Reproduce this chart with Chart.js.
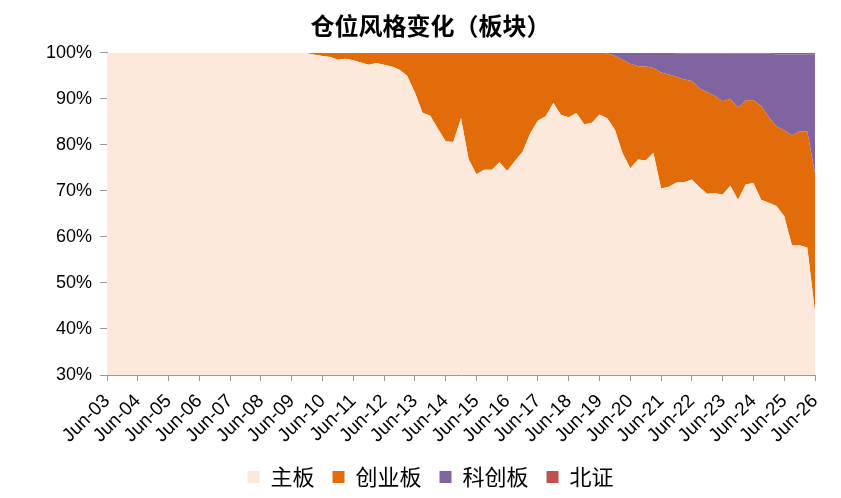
<!DOCTYPE html>
<html>
<head>
<meta charset="utf-8">
<script src="https://cdn.jsdelivr.net/npm/chart.js@4"></script>
<style>
  html, body { margin: 0; padding: 0; background: #fff; }
  #wrap { width: 841px; height: 498px; position: relative; }
</style>
</head>
<body>
<div id="wrap"><canvas id="chart"></canvas></div>
<script>
// Quarter labels, Jun-03 .. Jun-26
const months = ['Jun', 'Sep', 'Dec', 'Mar'];
const quarters = [];
for (let i = 0; i <= 92; i++) {
  const yr = 3 + Math.floor((i + 2) / 4);
  quarters.push(months[i % 4] + '-' + String(yr).padStart(2, '0'));
}

// Share of holdings by board (%)
const mainBoard = [
  100, 100, 100, 100, 100, 100, 100, 100, 100, 100,
  100, 100, 100, 100, 100, 100, 100, 100, 100, 100,
  100, 100, 100, 100, 100, 100, 99.9, 99.6, 99.3, 99.1,
  98.5, 98.7, 98.4, 97.9, 97.4, 97.8, 97.4, 97.0, 96.3, 95.0,
  91.4, 87.0, 86.3, 83.5, 80.8, 80.6, 85.8, 76.8, 73.6, 74.6,
  74.6, 76.2, 74.3, 76.5, 78.5, 82.5, 85.3, 86.2, 89.1, 86.5,
  86.0, 86.9, 84.5, 84.8, 86.6, 85.8, 83.3, 78.2, 74.9, 76.8,
  76.6, 78.3, 70.5, 70.9, 71.8, 71.9, 72.5, 70.8, 69.4, 69.5,
  69.2, 71.1, 68.1, 71.4, 71.7, 68.1, 67.4, 66.7, 64.5, 58.2,
  58.2, 57.7, 43.7
];
const chiNext = [
  0, 0, 0, 0, 0, 0, 0, 0, 0, 0,
  0, 0, 0, 0, 0, 0, 0, 0, 0, 0,
  0, 0, 0, 0, 0, 0, 0.1, 0.4, 0.7, 0.9,
  1.5, 1.3, 1.6, 2.1, 2.6, 2.2, 2.6, 3.0, 3.7, 5.0,
  8.6, 13.0, 13.7, 16.5, 19.2, 19.4, 14.2, 23.2, 26.4, 25.4,
  25.4, 23.8, 25.7, 23.5, 21.5, 17.5, 14.7, 13.8, 10.9, 13.5,
  14.0, 13.1, 15.5, 15.2, 13.4, 14.1, 16.0, 20.3, 22.7, 20.3,
  20.4, 18.4, 25.2, 24.4, 23.0, 22.3, 21.4, 21.4, 22.1, 21.1,
  20.3, 18.9, 20.0, 18.3, 18.0, 20.4, 18.6, 17.3, 18.7, 23.9,
  24.7, 25.2, 30.1
];
const star = [
  0, 0, 0, 0, 0, 0, 0, 0, 0, 0,
  0, 0, 0, 0, 0, 0, 0, 0, 0, 0,
  0, 0, 0, 0, 0, 0, 0, 0, 0, 0,
  0, 0, 0, 0, 0, 0, 0, 0, 0, 0,
  0, 0, 0, 0, 0, 0, 0, 0, 0, 0,
  0, 0, 0, 0, 0, 0, 0, 0, 0, 0,
  0, 0, 0, 0, 0, 0.1, 0.7, 1.5, 2.4, 2.9,
  3.0, 3.3, 4.3, 4.7, 5.1, 5.7, 6.0, 7.7, 8.4, 9.3,
  10.4, 9.8, 11.7, 10.1, 10.1, 11.3, 13.8, 15.7, 16.5, 17.6,
  16.8, 16.8, 25.9
];
const bse = [
  0, 0, 0, 0, 0, 0, 0, 0, 0, 0,
  0, 0, 0, 0, 0, 0, 0, 0, 0, 0,
  0, 0, 0, 0, 0, 0, 0, 0, 0, 0,
  0, 0, 0, 0, 0, 0, 0, 0, 0, 0,
  0, 0, 0, 0, 0, 0, 0, 0, 0, 0,
  0, 0, 0, 0, 0, 0, 0, 0, 0, 0,
  0, 0, 0, 0, 0, 0, 0, 0, 0, 0,
  0, 0, 0, 0, 0.1, 0.1, 0.1, 0.1, 0.1, 0.1,
  0.1, 0.2, 0.2, 0.2, 0.2, 0.2, 0.2, 0.3, 0.3, 0.3,
  0.3, 0.3, 0.3
];
const yTicks = [30, 40, 50, 60, 70, 80, 90, 100];

const FONT = "'Liberation Sans', Arial, 'Noto Sans CJK SC', sans-serif";
const CJK = "'Noto Sans CJK SC', sans-serif";
Chart.defaults.font.family = FONT;
Chart.defaults.color = '#000';

function area(label, data, color, fill) {
  return {
    label,
    data,
    backgroundColor: color,
    borderColor: color,
    borderWidth: 0,
    pointRadius: 0,
    tension: 0,
    fill
  };
}

new Chart(document.getElementById('chart'), {
  type: 'line',
  data: {
    labels: quarters,
    datasets: [
      area('主板', mainBoard, '#FCE9DB', 'start'),
      area('创业板', chiNext, '#E36C0A', '-1'),
      area('科创板', star, '#8064A2', '-1'),
      area('北证', bse, '#C0504D', '-1')
    ]
  },
  options: {
    responsive: true,
    maintainAspectRatio: false,
    animation: false,
    layout: { padding: { left: 46, right: 26, top: 0, bottom: 0 } },
    plugins: {
      title: {
        display: true,
        text: '仓位风格变化（板块）',
        font: { size: 24, weight: 'bold', family: CJK },
        padding: { top: 11, bottom: 13 }
      },
      legend: {
        position: 'bottom',
        labels: {
          boxWidth: 12,
          boxHeight: 12,
          padding: 18,
          font: { size: 22, family: CJK }
        }
      },
      tooltip: { enabled: false }
    },
    scales: {
      x: {
        offset: false,
        grid: { drawOnChartArea: false, tickLength: 6, color: '#999' },
        border: { color: '#999' },
        ticks: {
          autoSkip: false,
          minRotation: 45,
          maxRotation: 45,
          padding: 9,
          font: { size: 19 },
          callback: function (v, i) { return i % 4 === 0 ? quarters[i] : null; }
        },
        afterFit: s => { s.height = 73; }
      },
      y: {
        stacked: true,
        min: 30,
        max: 100,
        afterBuildTicks: s => { s.ticks = yTicks.map(v => ({ value: v })); },
        grid: { drawOnChartArea: false, tickLength: 7, color: '#999' },
        border: { color: '#999' },
        ticks: {
          padding: 8,
          font: { size: 18 },
          callback: v => v + '%'
        },
        afterFit: s => { s.width = 61; }
      }
    }
  }
});
</script>
</body>
</html>
